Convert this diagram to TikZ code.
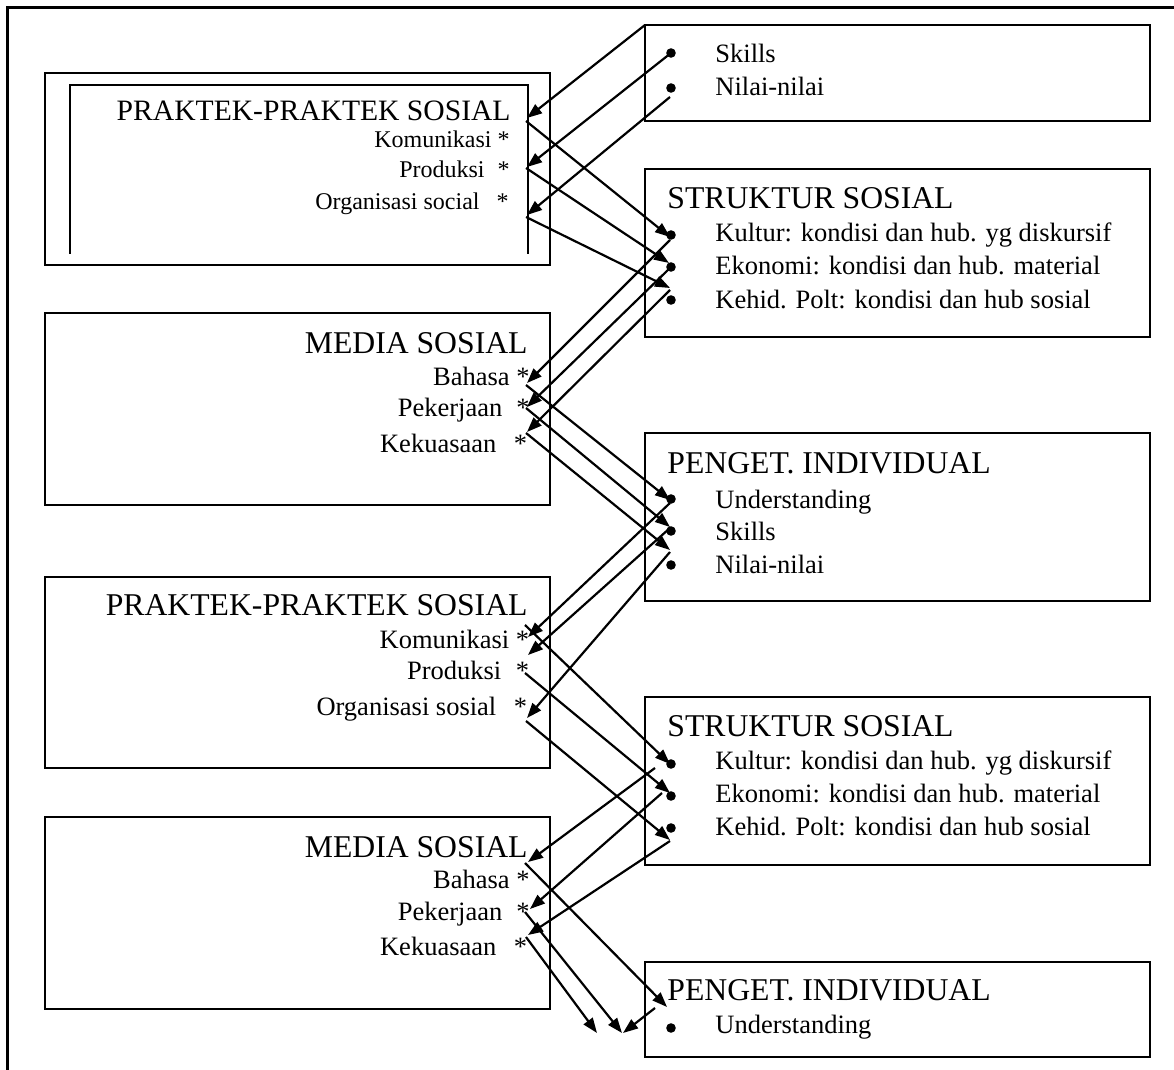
\documentclass[tikz,border=0pt]{standalone}
\usepackage{fontspec}
\setmainfont{Liberation Serif}
\usetikzlibrary{arrows.meta,fit}
\begin{document}
\begin{tikzpicture}[x=0.5pt,y=-0.5pt,
  box/.style={draw, line width=1pt, inner sep=0pt},
  arr/.style={line width=1.1pt, -{Triangle[length=7.5pt,width=5.5pt]}},
  ttl/.style={inner sep=0pt, font=\fontsize{15.85}{18}\selectfont},
  itm/.style={inner sep=0pt, font=\fontsize{13.25}{15}\selectfont},
  sitm/.style={inner sep=0pt, font=\fontsize{12}{14}\selectfont},
  bul/.style={circle, fill, inner sep=0pt, minimum size=4.8pt}]
\useasboundingbox (0,0) rectangle (1174,1070);
% outer frame (left and top only)
\draw[line width=1.5pt] (7,1070) -- (7,8) -- (1174,8);

% ---------- left boxes ----------
\node[box, fit={(45,73)(550,265)}] (boxA) {};
\draw[line width=0.8pt] (70,254) -- (70,85) -- (528,85) -- (528,254);
\node[anchor=base east, inner sep=0pt, font=\fontsize{14.8}{17}\selectfont] (tA) at (511,121) {PRAKTEK-PRAKTEK SOSIAL};
\node[sitm, anchor=base east] (a1) at (510,148) {Komunikasi *};
\node[sitm, anchor=base east] (a2) at (510,177) {Produksi\hspace{6.5pt}*};
\node[sitm, anchor=base east] (a3) at (509,210) {Organisasi social\hspace{8.5pt}*};

\node[box, fit={(45,313)(550,505)}] (boxD) {};
\node[ttl, anchor=base east] (tD) at (528,353) {MEDIA SOSIAL};
\node[itm, anchor=base east] (d1) at (530,385) {Bahasa *};
\node[itm, anchor=base east] (d2) at (530,416) {Pekerjaan\hspace{7pt}*};
\node[itm, anchor=base east] (d3) at (527.5,452) {Kekuasaan\hspace{8.75pt}*};

\node[box, fit={(45,577)(550,768)}] (boxE) {};
\node[ttl, anchor=base east] (tE) at (528,615) {PRAKTEK-PRAKTEK SOSIAL};
\node[itm, anchor=base east] (e1) at (529.5,648) {Komunikasi *};
\node[itm, anchor=base east] (e2) at (529.5,679) {Produksi\hspace{7.25pt}*};
\node[itm, anchor=base east] (e3) at (527.5,715) {Organisasi sosial\hspace{8.75pt}*};

\node[box, fit={(45,817)(550,1009)}] (boxM) {};
\node[ttl, anchor=base east] (tM) at (528,857) {MEDIA SOSIAL};
\node[itm, anchor=base east] (m1) at (530,888) {Bahasa *};
\node[itm, anchor=base east] (m2) at (530,920) {Pekerjaan\hspace{7pt}*};
\node[itm, anchor=base east] (m3) at (527.5,955) {Kekuasaan\hspace{8.75pt}*};

% ---------- right boxes ----------
\node[box, fit={(645,25)(1150,121)}] (boxB) {};
\node[bul] (bb1) at (671,53) {};
\node[bul] (bb2) at (671,88) {};
\node[itm, anchor=base west] (b1) at (715,63) {Skills};
\node[itm, anchor=base west] (b2) at (715,96) {Nilai-nilai};

\node[box, fit={(645,169)(1150,337)}] (boxC) {};
\node[ttl, anchor=base west] (tC) at (667,208) {STRUKTUR SOSIAL};
\node[bul] (bc1) at (671,235) {};
\node[bul] (bc2) at (671,267) {};
\node[bul] (bc3) at (671,300) {};
\node[itm, anchor=base west] (c1) at (715,242) {Kultur: kondisi dan hub. yg diskursif};
\node[itm, anchor=base west] (c2) at (715,275) {Ekonomi: kondisi dan hub. material};
\node[itm, anchor=base west] (c3) at (715,308) {Kehid. Polt: kondisi dan hub sosial};

\node[box, fit={(645,433)(1150,601)}] (boxH) {};
\node[ttl, anchor=base west] (tH) at (667,473) {PENGET. INDIVIDUAL};
\node[bul] (bh1) at (671,499) {};
\node[bul] (bh2) at (671,531) {};
\node[bul] (bh3) at (671,565) {};
\node[itm, anchor=base west] (h1) at (715,508) {Understanding};
\node[itm, anchor=base west] (h2) at (715,540) {Skills};
\node[itm, anchor=base west] (h3) at (715,573) {Nilai-nilai};

\node[box, fit={(645,697)(1150,865)}] (boxF) {};
\node[ttl, anchor=base west] (tF) at (667,736) {STRUKTUR SOSIAL};
\node[bul] (bf1) at (671,764) {};
\node[bul] (bf2) at (671,796) {};
\node[bul] (bf3) at (671,828) {};
\node[itm, anchor=base west] (f1) at (715,769) {Kultur: kondisi dan hub. yg diskursif};
\node[itm, anchor=base west] (f2) at (715,802) {Ekonomi: kondisi dan hub. material};
\node[itm, anchor=base west] (f3) at (715,835) {Kehid. Polt: kondisi dan hub sosial};

\node[box, fit={(645,962)(1150,1057)}] (boxG) {};
\node[ttl, anchor=base west] (tG) at (667,1000) {PENGET. INDIVIDUAL};
\node[bul] (bg1) at (671,1028) {};
\node[itm, anchor=base west] (g1) at (715,1033) {Understanding};

% ---------- connector end points ----------
% B -> A
\coordinate (BA1s) at (645,25);  \coordinate (BA1t) at (527,118);
\coordinate (BA2s) at (671,53);  \coordinate (BA2t) at (527,167);
\coordinate (BA3s) at (670,97);  \coordinate (BA3t) at (527,215);
% A -> C
\coordinate (AC1s) at (526,121); \coordinate (AC1t) at (670,237);
\coordinate (AC2s) at (526,168); \coordinate (AC2t) at (669,263);
\coordinate (AC3s) at (526,217); \coordinate (AC3t) at (670,288);
% C -> D
\coordinate (CD1s) at (670,240); \coordinate (CD1t) at (527,383);
\coordinate (CD2s) at (670,268); \coordinate (CD2t) at (527,407);
\coordinate (CD3s) at (670,290); \coordinate (CD3t) at (527,432);
% D -> H
\coordinate (DH1s) at (526,385); \coordinate (DH1t) at (670,500);
\coordinate (DH2s) at (526,408); \coordinate (DH2t) at (670,527);
\coordinate (DH3s) at (526,433); \coordinate (DH3t) at (670,550);
% H -> E
\coordinate (HE1s) at (670,503); \coordinate (HE1t) at (528,637);
\coordinate (HE2s) at (670,528); \coordinate (HE2t) at (528,655);
\coordinate (HE3s) at (670,552); \coordinate (HE3t) at (527,718);
% E -> F
\coordinate (EF1s) at (525,625); \coordinate (EF1t) at (670,764);
\coordinate (EF2s) at (525,673); \coordinate (EF2t) at (670,793);
\coordinate (EF3s) at (526,721); \coordinate (EF3t) at (670,840);
% F -> M
\coordinate (FM1s) at (655,768); \coordinate (FM1t) at (528,862);
\coordinate (FM2s) at (662,793); \coordinate (FM2t) at (530,909);
\coordinate (FM3s) at (670,841); \coordinate (FM3t) at (528,935);
% M -> G / free ends
\coordinate (MG1s) at (525,863); \coordinate (MG1t) at (667,1007);
\coordinate (MX2s) at (525,912); \coordinate (MX2t) at (622,1033);
\coordinate (MX3s) at (526,937); \coordinate (MX3t) at (597,1033);
\coordinate (GXs)  at (655,1008); \coordinate (GXt) at (623,1033);

\foreach \p in {BA1,BA2,BA3,AC1,AC2,AC3,CD1,CD2,CD3,DH1,DH2,DH3,HE1,HE2,HE3,EF1,EF2,EF3,FM1,FM2,FM3,MG1,MX2,MX3,GX}
  \draw[arr] (\p s) -- (\p t);
\end{tikzpicture}
\end{document}
